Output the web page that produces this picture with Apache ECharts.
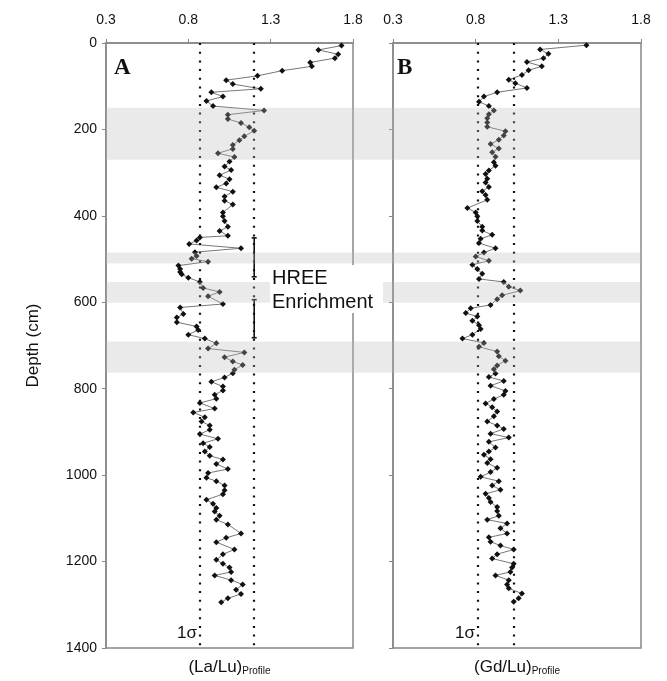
<!DOCTYPE html>
<html>
<head>
<meta charset="utf-8">
<script src="https://cdn.jsdelivr.net/npm/echarts@6/dist/echarts.min.js"></script>
<style>html,body{margin:0;padding:0;background:#fff}#c{width:667px;height:681px}</style>
</head>
<body>
<div id="c"></div>
<script>
// ---- Data ----
const depthA = [6,16,26,35,45,54,64,76,86,95,106,114,124,134,146,156,166,176,185,195,203,216,225,236,245,255,264,274,286,294,306,315,325,334,344,355,365,374,392,401,412,425,435,446,450,457,465,475,484,493,499,506,515,523,530,535,543,553,567,576,586,604,612,627,635,646,656,664,675,684,695,707,716,727,737,745,756,764,774,784,795,804,814,823,833,846,855,866,876,885,895,905,916,926,935,945,955,964,974,986,995,1006,1014,1024,1035,1044,1057,1066,1076,1084,1094,1103,1114,1135,1145,1155,1172,1183,1196,1205,1214,1224,1232,1243,1253,1265,1275,1285,1294];
const ratioA = [1.73,1.59,1.71,1.69,1.54,1.55,1.37,1.22,1.03,1.07,1.24,0.94,1.01,0.91,0.95,1.26,1.04,1.04,1.12,1.17,1.20,1.14,1.11,1.07,1.07,0.98,1.08,1.05,1.02,1.06,0.99,1.05,1.03,0.97,1.07,1.02,1.02,1.07,1.01,1.01,1.02,1.04,0.99,1.04,0.87,0.85,0.805,1.12,0.84,0.85,0.82,0.92,0.74,0.75,0.75,0.76,0.80,0.87,0.89,0.99,0.92,1.01,0.75,0.77,0.73,0.73,0.85,0.86,0.80,0.90,0.97,0.92,1.14,1.02,1.07,1.13,1.08,1.07,1.02,0.94,1.01,1.01,0.96,0.97,0.87,0.96,0.83,0.90,0.88,0.93,0.93,0.87,0.98,0.89,0.93,0.90,0.93,1.01,0.97,1.04,0.92,0.91,0.97,1.02,1.02,1.01,0.91,0.95,0.97,0.96,0.99,0.97,1.04,1.12,1.03,0.97,1.08,1.01,0.97,1.01,1.05,1.06,0.96,1.06,1.13,1.09,1.12,1.04,1.00];
const depthB = [5,15,25,35,44,54,63,74,85,93,104,114,124,136,146,156,165,174,184,194,204,214,224,234,244,253,263,276,284,295,303,314,323,333,343,352,363,382,392,401,412,425,434,444,453,463,475,485,494,504,513,523,534,546,553,564,573,584,593,606,614,625,633,643,653,662,675,684,694,703,714,725,735,746,755,765,773,782,793,805,814,824,834,843,853,864,876,885,893,904,913,923,936,945,953,963,972,983,993,1004,1014,1024,1034,1043,1053,1062,1074,1083,1094,1103,1112,1123,1135,1144,1154,1163,1172,1183,1193,1205,1214,1224,1232,1243,1253,1262,1274,1285,1293];
const ratioB = [1.47,1.19,1.24,1.21,1.11,1.20,1.12,1.08,1.00,1.04,1.11,0.93,0.85,0.82,0.88,0.91,0.88,0.87,0.87,0.87,0.98,0.97,0.94,0.89,0.94,0.90,0.92,0.91,0.92,0.88,0.86,0.87,0.86,0.88,0.84,0.86,0.87,0.75,0.80,0.81,0.81,0.84,0.84,0.90,0.83,0.82,0.92,0.85,0.80,0.88,0.78,0.81,0.84,0.82,0.97,1.00,1.07,0.96,0.93,0.89,0.77,0.74,0.81,0.78,0.82,0.83,0.78,0.72,0.85,0.82,0.93,0.94,0.98,0.93,0.91,0.92,0.88,0.97,0.89,0.98,0.97,0.91,0.86,0.90,0.93,0.91,0.87,0.93,0.97,0.89,1.00,0.88,0.92,0.88,0.85,0.89,0.87,0.93,0.89,0.83,0.94,0.90,0.95,0.86,0.88,0.89,0.93,0.93,0.94,0.87,0.99,0.95,0.99,0.88,0.89,0.95,1.03,0.93,0.90,1.03,1.02,1.01,0.92,1.00,0.99,1.00,1.08,1.06,1.03];
const xTicks = [0.3, 0.8, 1.3, 1.8];
const depthTicks = [0, 200, 400, 600, 800, 1000, 1200, 1400];
const sigmaA = [0.87, 1.2];
const sigmaB = [0.81, 1.03];
const bandTop = [150, 485, 553, 691];
const bandBottom = [270, 510, 601, 763];
const hreeX = 1.2;
const hreeTop = [451, 594];
const hreeBottom = [541, 682];
const panelLabels = ['A', 'B'];
const xNames = ['(La/Lu)', '(Gd/Lu)'];

// ---- Chart ----
const FONT = 'Liberation Sans, Arial, sans-serif';
const chart = echarts.init(document.getElementById('c'), null, {renderer: 'canvas'});

function topAxis(gi) {
  return {
    type: 'value', gridIndex: gi, position: 'top',
    min: xTicks[0], max: xTicks[xTicks.length - 1], interval: xTicks[1] - xTicks[0],
    axisLine: {show: true, onZero: false, lineStyle: {color: '#888', width: 1.5}},
    axisTick: {show: true, length: 4, lineStyle: {color: '#888'}},
    axisLabel: {color: '#111', fontSize: 14, fontFamily: FONT, margin: 16,
      formatter: v => v.toFixed(1)},
    splitLine: {show: false}
  };
}
function bottomAxis(gi, nm) {
  return {
    type: 'value', gridIndex: gi, position: 'bottom',
    min: xTicks[0], max: xTicks[xTicks.length - 1],
    axisLine: {show: false}, axisTick: {show: false}, axisLabel: {show: false},
    splitLine: {show: false},
    name: '{a|' + nm + '}{b|Profile}', nameLocation: 'middle', nameGap: 10,
    nameTextStyle: {
      rich: {
        a: {fontSize: 17, fontFamily: FONT, color: '#111'},
        b: {fontSize: 10, fontFamily: FONT, color: '#111', verticalAlign: 'bottom', padding: [8, 0, 0, 0]}
      }
    }
  };
}
function depthAxis(gi, labels) {
  return {
    type: 'value', gridIndex: gi, inverse: true,
    min: depthTicks[0], max: depthTicks[depthTicks.length - 1], interval: depthTicks[1] - depthTicks[0],
    axisLine: {show: true, onZero: false, lineStyle: {color: '#888', width: 1.5}},
    axisTick: {show: true, length: 4, lineStyle: {color: '#888'}},
    axisLabel: {show: labels, color: '#111', fontSize: 14, fontFamily: FONT, margin: 9,
      formatter: v => String(v)},
    splitLine: {show: false},
    name: labels ? 'Depth (cm)' : '', nameLocation: 'middle', nameRotate: 90, nameGap: 64,
    nameTextStyle: {fontSize: 17, fontFamily: FONT, color: '#111'}
  };
}
function profileSeries(xi, yi, depth, ratio, sigma) {
  return {
    type: 'line', xAxisIndex: xi, yAxisIndex: yi, z: 3,
    data: depth.map((d, i) => [ratio[i], d]),
    showAllSymbol: true, symbol: 'diamond', symbolSize: 6,
    itemStyle: {color: '#111'},
    lineStyle: {color: '#777', width: 1},
    animation: false, silent: true,
    markLine: {
      silent: true, symbol: 'none', animation: false,
      label: {show: false},
      lineStyle: {color: '#111', type: [2, 6.7], width: 2.2, cap: 'butt'},
      data: sigma.map(v => ({xAxis: v}))
    }
  };
}

const hreeData = [];
hreeTop.forEach((t, i) => {
  if (i > 0) hreeData.push('-');
  hreeData.push([hreeX, t]);
  hreeData.push([hreeX, hreeBottom[i]]);
});

const option = {
  backgroundColor: '#fff',
  animation: false,
  grid: [
    {left: 106, top: 43, width: 247, height: 605, show: true, borderColor: '#888', borderWidth: 1.5, backgroundColor: 'transparent'},
    {left: 393, top: 43, width: 248, height: 605, show: true, borderColor: '#888', borderWidth: 1.5, backgroundColor: 'transparent'},
    {left: 106, top: 43, width: 535, height: 605, show: false}
  ],
  xAxis: [
    topAxis(0), bottomAxis(0, xNames[0]),
    topAxis(1), bottomAxis(1, xNames[1]),
    {type: 'value', gridIndex: 2, min: 0, max: 1, show: false}
  ],
  yAxis: [
    depthAxis(0, true), depthAxis(1, false),
    {type: 'value', gridIndex: 2, inverse: true, min: depthTicks[0], max: depthTicks[depthTicks.length - 1], show: false}
  ],
  series: [
    profileSeries(0, 0, depthA, ratioA, sigmaA),
    profileSeries(2, 1, depthB, ratioB, sigmaB),
    {
      type: 'line', xAxisIndex: 0, yAxisIndex: 0, z: 4, silent: true,
      data: hreeData, connectNulls: false,
      symbol: 'rect', symbolSize: [5, 1.6], showAllSymbol: true,
      itemStyle: {color: '#111'},
      lineStyle: {color: '#111', width: 1.6}
    },
    {
      type: 'custom', xAxisIndex: 4, yAxisIndex: 2, z: 10, silent: true,
      data: bandTop.map((t, i) => [t, bandBottom[i]]),
      renderItem: function (params, api) {
        const p1 = api.coord([0, api.value(0)]);
        const p2 = api.coord([1, api.value(1)]);
        return {type: 'rect', shape: {x: p1[0], y: p1[1], width: p2[0] - p1[0], height: p2[1] - p1[1]},
          style: {fill: 'rgba(185,185,185,0.3)'}};
      }
    }
  ],
  graphic: [
    {type: 'rect', z: 100, shape: {x: 270, y: 265, width: 113, height: 48}, style: {fill: '#fff'}},
    {type: 'text', z: 101, left: 272, top: 266, style: {text: 'HREE\nEnrichment', font: '20px ' + FONT, fill: '#111', lineHeight: 24}},
    {type: 'text', z: 101, left: 114, top: 57, style: {text: panelLabels[0], font: 'bold 23px "Liberation Serif", "Times New Roman", serif', fill: '#111'}},
    {type: 'text', z: 101, left: 397, top: 57, style: {text: panelLabels[1], font: 'bold 23px "Liberation Serif", "Times New Roman", serif', fill: '#111'}},
    {type: 'text', z: 101, x: 197, y: 633, style: {text: '1σ', font: '17px ' + FONT, fill: '#111', align: 'right', verticalAlign: 'middle'}},
    {type: 'text', z: 101, x: 475, y: 633, style: {text: '1σ', font: '17px ' + FONT, fill: '#111', align: 'right', verticalAlign: 'middle'}}
  ]
};
chart.setOption(option);
</script>
</body>
</html>
